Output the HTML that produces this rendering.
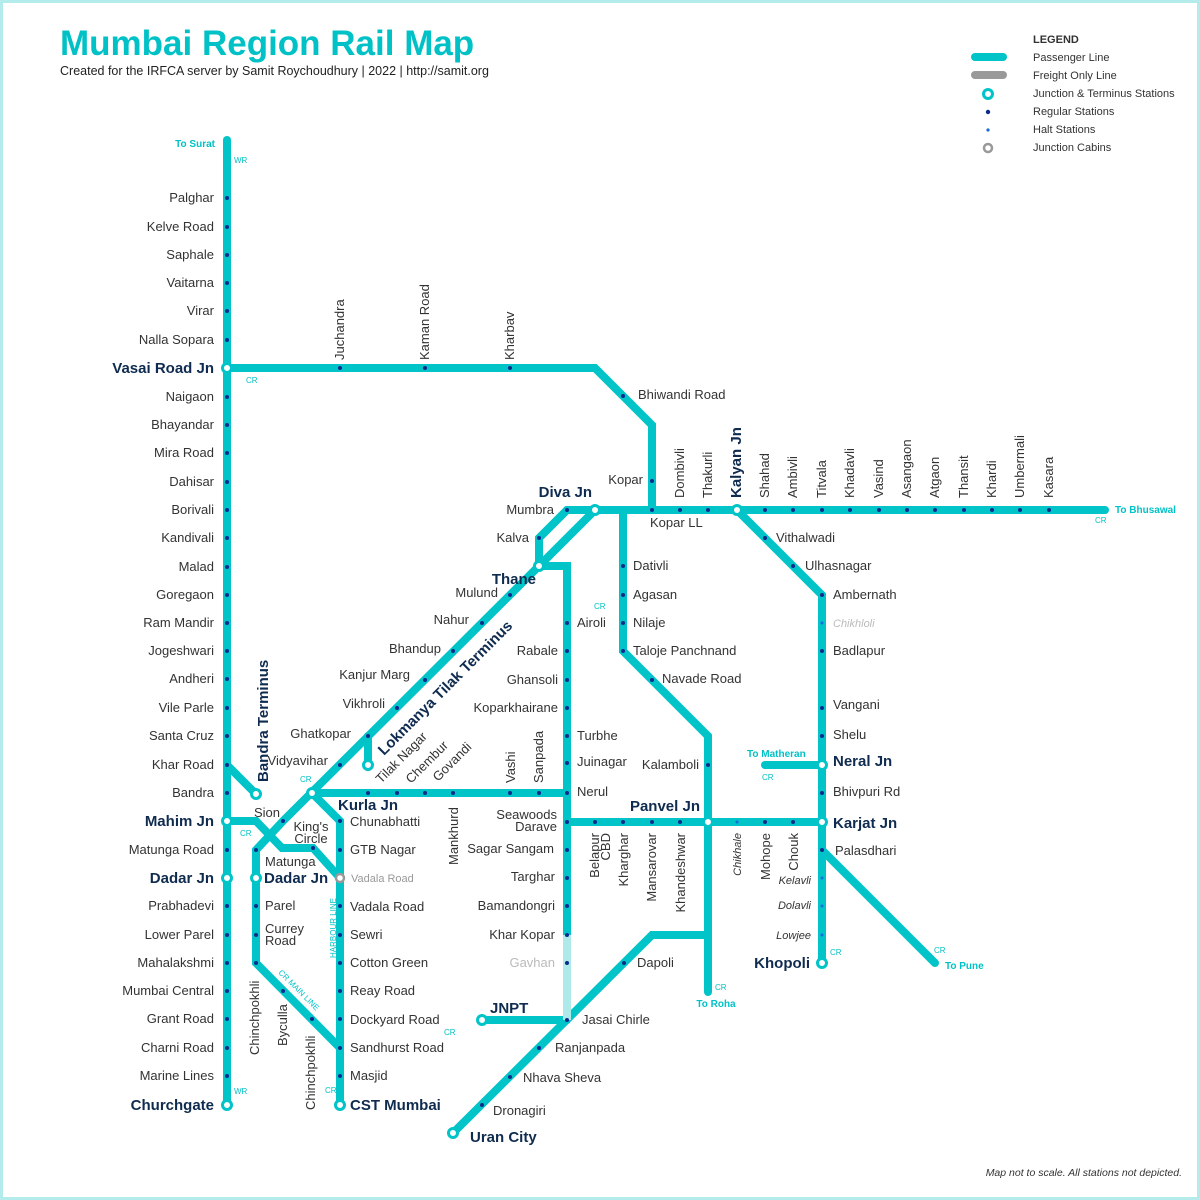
<!DOCTYPE html>
<html><head><meta charset="utf-8"><style>
html,body{margin:0;padding:0;background:#fff}
svg{display:block}
text{font-family:"Liberation Sans",sans-serif;fill:#333;font-size:13px}
.b{font-weight:bold;fill:#0f2b4f;font-size:15px}
.t{fill:#00c2c6;font-size:10px;font-weight:bold}
.s{fill:#00c2c6;font-size:8px}
.i{font-style:italic;font-size:11px}
</style></head><body>
<svg width="1200" height="1200" viewBox="0 0 1200 1200" xmlns="http://www.w3.org/2000/svg">
<rect x="1.5" y="1.5" width="1197" height="1197" fill="#fff" stroke="#b4ecec" stroke-width="3"/>
<text x="60" y="55" style="font-size:35px;font-weight:bold;fill:#00c2c6">Mumbai Region Rail Map</text>
<text x="60" y="75" style="font-size:12.5px;fill:#222">Created for the IRFCA server by Samit Roychoudhury | 2022 | http://samit.org</text>
<!-- legend -->
<g stroke-linecap="round" stroke-width="8">
<line x1="975" y1="57" x2="1003" y2="57" stroke="#00c4c8"/>
<line x1="975" y1="75" x2="1003" y2="75" stroke="#999"/>
</g>
<circle cx="988" cy="94" r="4.5" fill="#fff" stroke="#00c4c8" stroke-width="3"/>
<circle cx="988" cy="112" r="2.2" fill="#0b2a8c"/>
<circle cx="988" cy="130" r="1.6" fill="#1a6ae0"/>
<circle cx="988" cy="148" r="4" fill="#fff" stroke="#999" stroke-width="2.5"/>
<g style="font-size:11px">
<text x="1033" y="43" style="font-size:11px;font-weight:bold">LEGEND</text>
<text x="1033" y="61" style="font-size:11px">Passenger Line</text>
<text x="1033" y="79" style="font-size:11px">Freight Only Line</text>
<text x="1033" y="97" style="font-size:11px">Junction &amp; Terminus Stations</text>
<text x="1033" y="115" style="font-size:11px">Regular Stations</text>
<text x="1033" y="133" style="font-size:11px">Halt Stations</text>
<text x="1033" y="151" style="font-size:11px">Junction Cabins</text>
</g>
<!-- lines -->
<g fill="none" stroke="#00c4c8" stroke-width="8" stroke-linejoin="miter" stroke-linecap="round">
<path d="M227 140V1105"/>
<path d="M227 765L256 794"/>
<path d="M227 368H595L652 425V510"/>
<path d="M567 510H1105"/>
<path d="M595 510L539 566"/>
<path d="M567 510L539 538V566"/>
<path d="M539 566L283 821L256 850V963L340 1048"/>
<path d="M368 736V765"/>
<path d="M312 793H567"/>
<path d="M312 793L340 821V1105"/>
<path d="M227 821H256L282 848H313L340 878"/>
<path d="M539 566H567V935"/>
<path d="M567 822H822"/>
<path d="M623 510V651L708 736V992"/>
<path d="M708 935H652L453 1133"/>
<path d="M482 1020H567"/>
<path d="M737 510L822 595V963"/>
<path d="M765 765H822"/>
<path d="M822 850L935 963"/>
</g>
<path d="M567 935V1020" stroke="#aeeaea" stroke-width="8" fill="none"/>
<!-- junction circles -->
<g fill="#fff" stroke="#00c4c8" stroke-width="3">
<circle cx="227" cy="368" r="4.5"/><circle cx="227" cy="821" r="4.5"/><circle cx="227" cy="878" r="4.5"/><circle cx="227" cy="1105" r="4.5"/>
<circle cx="256" cy="794" r="4.5"/><circle cx="256" cy="878" r="4.5"/><circle cx="312" cy="793" r="4.5"/><circle cx="368" cy="765" r="4.5"/>
<circle cx="340" cy="1105" r="4.5"/><circle cx="595" cy="510" r="4.5"/><circle cx="539" cy="566" r="4.5"/><circle cx="737" cy="510" r="4.5"/>
<circle cx="708" cy="822" r="4.5"/><circle cx="822" cy="822" r="4.5"/><circle cx="822" cy="765" r="4.5"/><circle cx="822" cy="963" r="4.5"/>
<circle cx="453" cy="1133" r="4.5"/><circle cx="482" cy="1020" r="4.5"/>
</g>
<circle cx="340" cy="878" r="4" fill="#fff" stroke="#999" stroke-width="2.5"/>
<!-- dots -->
<g fill="#0b2a8c">
<circle cx="227" cy="198" r="2"/><circle cx="227" cy="227" r="2"/><circle cx="227" cy="255" r="2"/><circle cx="227" cy="283" r="2"/><circle cx="227" cy="311" r="2"/><circle cx="227" cy="340" r="2"/>
<circle cx="227" cy="397" r="2"/><circle cx="227" cy="425" r="2"/><circle cx="227" cy="453" r="2"/><circle cx="227" cy="482" r="2"/><circle cx="227" cy="510" r="2"/><circle cx="227" cy="538" r="2"/><circle cx="227" cy="567" r="2"/><circle cx="227" cy="595" r="2"/><circle cx="227" cy="623" r="2"/><circle cx="227" cy="651" r="2"/><circle cx="227" cy="679" r="2"/><circle cx="227" cy="708" r="2"/><circle cx="227" cy="736" r="2"/><circle cx="227" cy="765" r="2"/><circle cx="227" cy="793" r="2"/><circle cx="227" cy="850" r="2"/><circle cx="227" cy="906" r="2"/><circle cx="227" cy="935" r="2"/><circle cx="227" cy="963" r="2"/><circle cx="227" cy="991" r="2"/><circle cx="227" cy="1019" r="2"/><circle cx="227" cy="1048" r="2"/><circle cx="227" cy="1076" r="2"/>
<circle cx="340" cy="368" r="2"/><circle cx="425" cy="368" r="2"/><circle cx="510" cy="368" r="2"/><circle cx="623" cy="396" r="2"/><circle cx="652" cy="481" r="2"/>
<circle cx="567" cy="510" r="2"/><circle cx="652" cy="510" r="2"/><circle cx="680" cy="510" r="2"/><circle cx="708" cy="510" r="2"/><circle cx="765" cy="510" r="2"/><circle cx="793" cy="510" r="2"/><circle cx="822" cy="510" r="2"/><circle cx="850" cy="510" r="2"/><circle cx="879" cy="510" r="2"/><circle cx="907" cy="510" r="2"/><circle cx="935" cy="510" r="2"/><circle cx="964" cy="510" r="2"/><circle cx="992" cy="510" r="2"/><circle cx="1020" cy="510" r="2"/><circle cx="1049" cy="510" r="2"/>
<circle cx="539" cy="538" r="2"/><circle cx="510" cy="595" r="2"/><circle cx="482" cy="623" r="2"/><circle cx="453" cy="651" r="2"/><circle cx="425" cy="680" r="2"/><circle cx="397" cy="708" r="2"/><circle cx="368" cy="736" r="2"/><circle cx="340" cy="765" r="2"/><circle cx="283" cy="821" r="2"/><circle cx="256" cy="850" r="2"/><circle cx="256" cy="906" r="2"/><circle cx="256" cy="935" r="2"/><circle cx="256" cy="963" r="2"/><circle cx="283" cy="991" r="2"/><circle cx="312" cy="1019" r="2"/>
<circle cx="313" cy="848" r="2"/>
<circle cx="368" cy="793" r="2"/><circle cx="397" cy="793" r="2"/><circle cx="425" cy="793" r="2"/><circle cx="453" cy="793" r="2"/><circle cx="510" cy="793" r="2"/><circle cx="539" cy="793" r="2"/><circle cx="567" cy="793" r="2"/>
<circle cx="340" cy="821" r="2"/><circle cx="340" cy="850" r="2"/><circle cx="340" cy="906" r="2"/><circle cx="340" cy="935" r="2"/><circle cx="340" cy="963" r="2"/><circle cx="340" cy="991" r="2"/><circle cx="340" cy="1019" r="2"/><circle cx="340" cy="1048" r="2"/><circle cx="340" cy="1076" r="2"/>
<circle cx="567" cy="623" r="2"/><circle cx="567" cy="651" r="2"/><circle cx="567" cy="680" r="2"/><circle cx="567" cy="708" r="2"/><circle cx="567" cy="736" r="2"/><circle cx="567" cy="763" r="2"/><circle cx="567" cy="822" r="2"/><circle cx="567" cy="850" r="2"/><circle cx="567" cy="878" r="2"/><circle cx="567" cy="906" r="2"/><circle cx="567" cy="935" r="2"/><circle cx="567" cy="963" r="2"/><circle cx="567" cy="1020" r="2"/>
<circle cx="595" cy="822" r="2"/><circle cx="623" cy="822" r="2"/><circle cx="652" cy="822" r="2"/><circle cx="680" cy="822" r="2"/><circle cx="765" cy="822" r="2"/><circle cx="793" cy="822" r="2"/>
<circle cx="623" cy="566" r="2"/><circle cx="623" cy="595" r="2"/><circle cx="623" cy="623" r="2"/><circle cx="623" cy="651" r="2"/><circle cx="652" cy="680" r="2"/><circle cx="708" cy="765" r="2"/>
<circle cx="624" cy="963" r="2"/><circle cx="539" cy="1048" r="2"/><circle cx="510" cy="1077" r="2"/><circle cx="482" cy="1105" r="2"/>
<circle cx="765" cy="538" r="2"/><circle cx="793" cy="566" r="2"/><circle cx="822" cy="595" r="2"/><circle cx="822" cy="651" r="2"/><circle cx="822" cy="708" r="2"/><circle cx="822" cy="736" r="2"/><circle cx="822" cy="793" r="2"/><circle cx="822" cy="850" r="2"/>
</g>
<g fill="#1a6ae0">
<circle cx="737" cy="822" r="1.5"/><circle cx="822" cy="623" r="1.5"/><circle cx="822" cy="878" r="1.5"/><circle cx="822" cy="906" r="1.5"/><circle cx="822" cy="935" r="1.5"/>
</g>
<!-- WR labels -->
<g text-anchor="end">
<text x="215" y="147" class="t">To Surat</text>
<text x="214" y="202">Palghar</text><text x="214" y="231">Kelve Road</text><text x="214" y="259">Saphale</text><text x="214" y="287">Vaitarna</text><text x="214" y="315">Virar</text><text x="214" y="344">Nalla Sopara</text>
<text x="214" y="373" class="b">Vasai Road Jn</text>
<text x="214" y="401">Naigaon</text><text x="214" y="429">Bhayandar</text><text x="214" y="457">Mira Road</text><text x="214" y="486">Dahisar</text><text x="214" y="514">Borivali</text><text x="214" y="542">Kandivali</text><text x="214" y="571">Malad</text><text x="214" y="599">Goregaon</text><text x="214" y="627">Ram Mandir</text><text x="214" y="655">Jogeshwari</text><text x="214" y="683">Andheri</text><text x="214" y="712">Vile Parle</text><text x="214" y="740">Santa Cruz</text><text x="214" y="769">Khar Road</text><text x="214" y="797">Bandra</text>
<text x="214" y="826" class="b">Mahim Jn</text>
<text x="214" y="854">Matunga Road</text>
<text x="214" y="883" class="b">Dadar Jn</text>
<text x="214" y="910">Prabhadevi</text><text x="214" y="939">Lower Parel</text><text x="214" y="967">Mahalakshmi</text><text x="214" y="995">Mumbai Central</text><text x="214" y="1023">Grant Road</text><text x="214" y="1052">Charni Road</text><text x="214" y="1080">Marine Lines</text>
<text x="214" y="1110" class="b">Churchgate</text>
<text x="643" y="484">Kopar</text>
<text x="592" y="497" class="b">Diva Jn</text>
<text x="554" y="514">Mumbra</text><text x="529" y="542">Kalva</text>
<text x="536" y="584" class="b">Thane</text>
<text x="498" y="597">Mulund</text><text x="469" y="624">Nahur</text><text x="441" y="653">Bhandup</text><text x="410" y="679">Kanjur Marg</text><text x="385" y="708">Vikhroli</text><text x="351" y="738">Ghatkopar</text><text x="328" y="765">Vidyavihar</text><text x="280" y="817">Sion</text>
<text x="558" y="655">Rabale</text><text x="558" y="684">Ghansoli</text><text x="558" y="712">Koparkhairane</text>
<text x="557" y="819">Seawoods</text><text x="557" y="831">Darave</text>
<text x="554" y="853">Sagar Sangam</text><text x="555" y="881">Targhar</text><text x="555" y="910">Bamandongri</text><text x="555" y="939">Khar Kopar</text>
<text x="555" y="967" style="fill:#bbb">Gavhan</text>
<text x="699" y="769">Kalamboli</text>
<text x="700" y="811" class="b">Panvel Jn</text>
<text x="811" y="884" class="i">Kelavli</text><text x="811" y="909" class="i">Dolavli</text><text x="811" y="939" class="i">Lowjee</text>
<text x="810" y="968" class="b">Khopoli</text>
<text x="1182" y="1176" class="i" style="font-size:10.5px">Map not to scale. All stations not depicted.</text>
</g>
<!-- rotated -->
<g>
<text transform="translate(344,360) rotate(-90)">Juchandra</text>
<text transform="translate(429,360) rotate(-90)">Kaman Road</text>
<text transform="translate(514,360) rotate(-90)">Kharbav</text>
<text transform="translate(684,498) rotate(-90)">Dombivli</text>
<text transform="translate(712,498) rotate(-90)">Thakurli</text>
<text transform="translate(741,498) rotate(-90)" class="b">Kalyan Jn</text>
<text transform="translate(769,498) rotate(-90)">Shahad</text>
<text transform="translate(797,498) rotate(-90)">Ambivli</text>
<text transform="translate(826,498) rotate(-90)">Titvala</text>
<text transform="translate(854,498) rotate(-90)">Khadavli</text>
<text transform="translate(883,498) rotate(-90)">Vasind</text>
<text transform="translate(911,498) rotate(-90)">Asangaon</text>
<text transform="translate(939,498) rotate(-90)">Atgaon</text>
<text transform="translate(968,498) rotate(-90)">Thansit</text>
<text transform="translate(996,498) rotate(-90)">Khardi</text>
<text transform="translate(1024,498) rotate(-90)">Umbermali</text>
<text transform="translate(1053,498) rotate(-90)">Kasara</text>
<text transform="translate(268,782) rotate(-90)" class="b">Bandra Terminus</text>
<text transform="translate(384,756) rotate(-45)" class="b">Lokmanya Tilak Terminus</text>
<text transform="translate(381,784) rotate(-45)">Tilak Nagar</text>
<text transform="translate(411,784) rotate(-45)">Chembur</text>
<text transform="translate(438,782) rotate(-45)">Govandi</text>
<text transform="translate(458,865) rotate(-90)">Mankhurd</text>
<text transform="translate(515,783) rotate(-90)">Vashi</text>
<text transform="translate(543,783) rotate(-90)">Sanpada</text>
<text transform="translate(259,1055) rotate(-90)">Chinchpokhli</text>
<text transform="translate(287,1046) rotate(-90)">Byculla</text>
<text transform="translate(315,1110) rotate(-90)">Chinchpokhli</text>
<text transform="translate(336,928) rotate(-90)" class="s" text-anchor="middle">HARBOUR LINE</text>
<text transform="translate(297,992) rotate(45)" class="s" text-anchor="middle">CR MAIN LINE</text>
</g>
<g text-anchor="end">
<text transform="translate(599,833) rotate(-90)">Belapur</text>
<text transform="translate(610,833) rotate(-90)">CBD</text>
<text transform="translate(628,833) rotate(-90)">Kharghar</text>
<text transform="translate(656,833) rotate(-90)">Mansarovar</text>
<text transform="translate(685,833) rotate(-90)">Khandeshwar</text>
<text transform="translate(741,833) rotate(-90)" class="i">Chikhale</text>
<text transform="translate(770,833) rotate(-90)">Mohope</text>
<text transform="translate(798,833) rotate(-90)">Chouk</text>
</g>
<!-- left aligned -->
<text x="638" y="399">Bhiwandi Road</text>
<text x="650" y="527">Kopar LL</text>
<text x="338" y="810" class="b">Kurla Jn</text>
<text x="311" y="831" text-anchor="middle">King's</text><text x="311" y="843" text-anchor="middle">Circle</text>
<text x="265" y="866">Matunga</text>
<text x="264" y="883" class="b">Dadar Jn</text>
<text x="265" y="910">Parel</text>
<text x="265" y="933">Currey</text><text x="265" y="945">Road</text>
<text x="350" y="826">Chunabhatti</text><text x="350" y="854">GTB Nagar</text>
<text x="351" y="882" style="font-size:11px;fill:#999">Vadala Road</text>
<text x="350" y="911">Vadala Road</text><text x="350" y="939">Sewri</text><text x="350" y="967">Cotton Green</text><text x="350" y="995">Reay Road</text><text x="350" y="1024">Dockyard Road</text><text x="350" y="1052">Sandhurst Road</text><text x="350" y="1080">Masjid</text>
<text x="350" y="1110" class="b">CST Mumbai</text>
<text x="577" y="627">Airoli</text><text x="577" y="740">Turbhe</text><text x="577" y="766">Juinagar</text><text x="577" y="796">Nerul</text>
<text x="633" y="570">Dativli</text><text x="633" y="599">Agasan</text><text x="633" y="627">Nilaje</text><text x="633" y="655">Taloje Panchnand</text><text x="662" y="683">Navade Road</text>
<text x="776" y="542">Vithalwadi</text><text x="805" y="570">Ulhasnagar</text><text x="833" y="599">Ambernath</text>
<text x="833" y="627" class="i" style="fill:#bbb">Chikhloli</text>
<text x="833" y="655">Badlapur</text><text x="833" y="709">Vangani</text><text x="833" y="739">Shelu</text>
<text x="833" y="766" class="b">Neral Jn</text>
<text x="833" y="796">Bhivpuri Rd</text>
<text x="833" y="828" class="b">Karjat Jn</text>
<text x="835" y="855">Palasdhari</text>
<text x="637" y="967">Dapoli</text><text x="582" y="1024">Jasai Chirle</text><text x="555" y="1052">Ranjanpada</text><text x="523" y="1082">Nhava Sheva</text><text x="493" y="1115">Dronagiri</text>
<text x="470" y="1142" class="b">Uran City</text>
<text x="490" y="1013" class="b">JNPT</text>
<!-- teal small labels -->
<text x="1115" y="513" class="t">To Bhusawal</text>
<text x="747" y="757" class="t">To Matheran</text>
<text x="945" y="969" class="t">To Pune</text>
<text x="716" y="1007" class="t" text-anchor="middle">To Roha</text>
<text x="234" y="163" class="s">WR</text><text x="246" y="383" class="s">CR</text><text x="1095" y="523" class="s">CR</text>
<text x="300" y="782" class="s">CR</text><text x="240" y="836" class="s">CR</text><text x="234" y="1094" class="s">WR</text><text x="325" y="1093" class="s">CR</text>
<text x="594" y="609" class="s">CR</text><text x="762" y="780" class="s">CR</text><text x="830" y="955" class="s">CR</text><text x="934" y="953" class="s">CR</text><text x="715" y="990" class="s">CR</text><text x="444" y="1035" class="s">CR</text>
</svg>
</body></html>
